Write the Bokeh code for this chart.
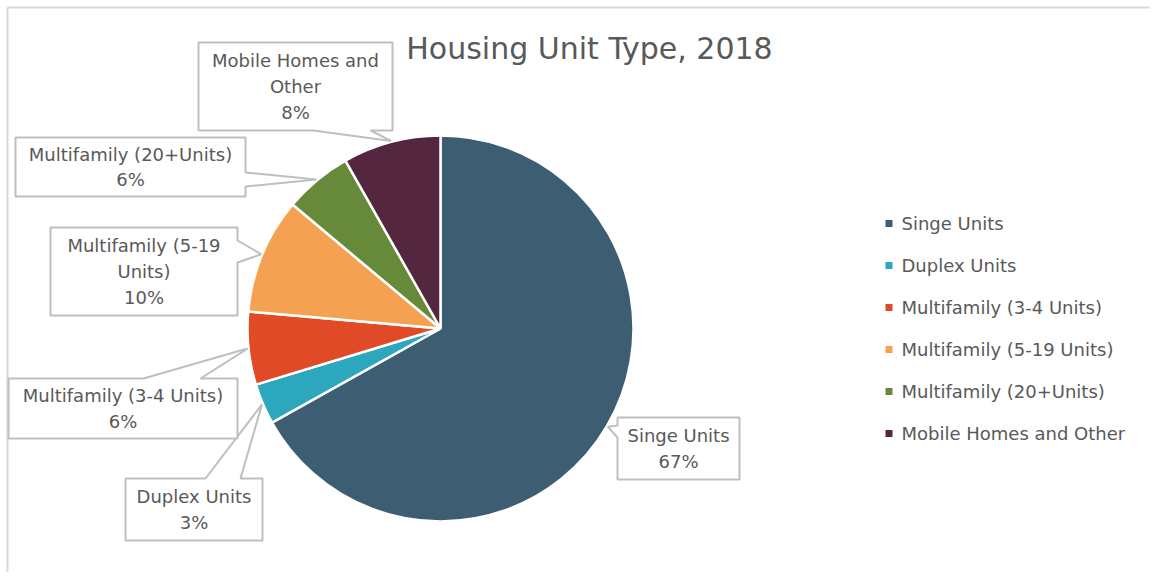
import math
from bokeh.plotting import figure
from bokeh.models import Range1d
from bokeh.core.properties import value
from bokeh.embed import file_html
from bokeh.resources import INLINE

# ---- data ----
categories = ["Singe Units", "Duplex Units", "Multifamily (3-4 Units)",
              "Multifamily (5-19 Units)", "Multifamily (20+Units)", "Mobile Homes and Other"]
shares = [66.9, 3.4, 6.1, 9.7, 5.7, 8.2]
callout_names = ["Singe Units", "Duplex Units", "Multifamily (3-4 Units)",
                 "Multifamily (5-19\nUnits)", "Multifamily (20+Units)", "Mobile Homes and\nOther"]
colors = ["#3D5D73", "#2CA7BE", "#E04A26", "#F4A251", "#668A3A", "#55273F"]
title = "Housing Unit Type, 2018"

FONT = "DejaVu Sans"
TXT = "#595959"
W, H = 1150, 572


def Y(py):
    return H - py


p = figure(width=W, height=H, x_range=Range1d(0, W), y_range=Range1d(0, H),
           output_backend="svg", toolbar_location=None, min_border=0)
p.axis.visible = False
p.grid.visible = False
p.outline_line_color = None
p.background_fill_color = "white"
p.border_fill_color = "white"

# frame border (top and left visible)
p.segment(x0=[7, 7], y0=[Y(7), Y(7)], x1=[7, W], y1=[Y(H), Y(7)],
          line_color="#D9D9D9", line_width=2)

# title
p.text(x=[589], y=[Y(48)], text=[title], text_font=value(FONT), text_font_size="30px",
       text_color=TXT, text_align="center", text_baseline="middle")

# pie
cx, cy, R = 440, 328, 193
total = sum(shares)
cum = 0.0
starts, ends, mids = [], [], []
for v in shares:
    a0 = cum / total
    cum += v
    a1 = cum / total
    starts.append(math.pi / 2 - a1 * 2 * math.pi)
    ends.append(math.pi / 2 - a0 * 2 * math.pi)
    mids.append((a0 + a1) / 2 * 2 * math.pi)

p.wedge(x=[cx] * len(shares), y=[Y(cy)] * len(shares), radius=R, radius_units="screen",
        start_angle=starts, end_angle=ends, direction="anticlock",
        fill_color=colors, line_color="white", line_width=2.5)

# callouts: box (page coords), side of tail, tail base a-b
boxes = [
    (617, 417, 739, 479, "left", 425, 437),     # Singe
    (125, 478, 262, 540, "top", 205, 240),      # Duplex
    (8, 378, 237, 438, "top", 143, 200),        # 3-4
    (50, 227, 237, 315, "right", 240, 262),     # 5-19
    (15, 137, 245, 196, "right", 172, 186),     # 20+
    (198, 42, 392, 130, "bottom", 313, 370),    # Mobile
]


def callout(x0, y0, x1, y1, side, a, b, tip):
    tx, ty = tip
    if side == "top":
        pts = [(x0, y0), (a, y0), (tx, ty), (b, y0), (x1, y0), (x1, y1), (x0, y1)]
    elif side == "right":
        pts = [(x0, y0), (x1, y0), (x1, a), (tx, ty), (x1, b), (x1, y1), (x0, y1)]
    elif side == "bottom":
        pts = [(x0, y0), (x1, y0), (x1, y1), (b, y1), (tx, ty), (a, y1), (x0, y1)]
    else:
        pts = [(x0, y0), (x1, y0), (x1, y1), (x0, y1), (x0, b), (tx, ty), (x0, a)]
    return [q[0] for q in pts], [Y(q[1]) for q in pts]


xs_all, ys_all, lx, ly, ltext = [], [], [], [], []
for i, (x0, y0, x1, y1, side, a, b) in enumerate(boxes):
    ang = mids[i]
    tip = (cx + (R + 1) * math.sin(ang), cy - (R + 1) * math.cos(ang))
    xs, ys = callout(x0, y0, x1, y1, side, a, b, tip)
    xs_all.append(xs)
    ys_all.append(ys)
    lx.append((x0 + x1) / 2)
    ly.append(Y((y0 + y1) / 2))
    ltext.append(f"{callout_names[i]}\n{round(shares[i])}%")

p.patches(xs=xs_all, ys=ys_all, fill_color="white", line_color="#BFBFBF", line_width=2)
p.text(x=lx, y=ly, text=ltext, text_font=value(FONT), text_font_size="18px",
       text_color=TXT, text_align="center", text_baseline="middle", text_line_height=1.22)

# legend
leg_y = [223 + 42 * i for i in range(len(categories))]
p.rect(x=[888.5] * len(categories), y=[Y(v) for v in leg_y], width=7, height=7,
       width_units="screen", height_units="screen", fill_color=colors, line_color=None)
p.text(x=[901] * len(categories), y=[Y(v) for v in leg_y], text=categories,
       text_font=value(FONT), text_font_size="18px", text_color=TXT,
       text_align="left", text_baseline="middle")

open("out.html", "w").write(file_html(p, INLINE))
